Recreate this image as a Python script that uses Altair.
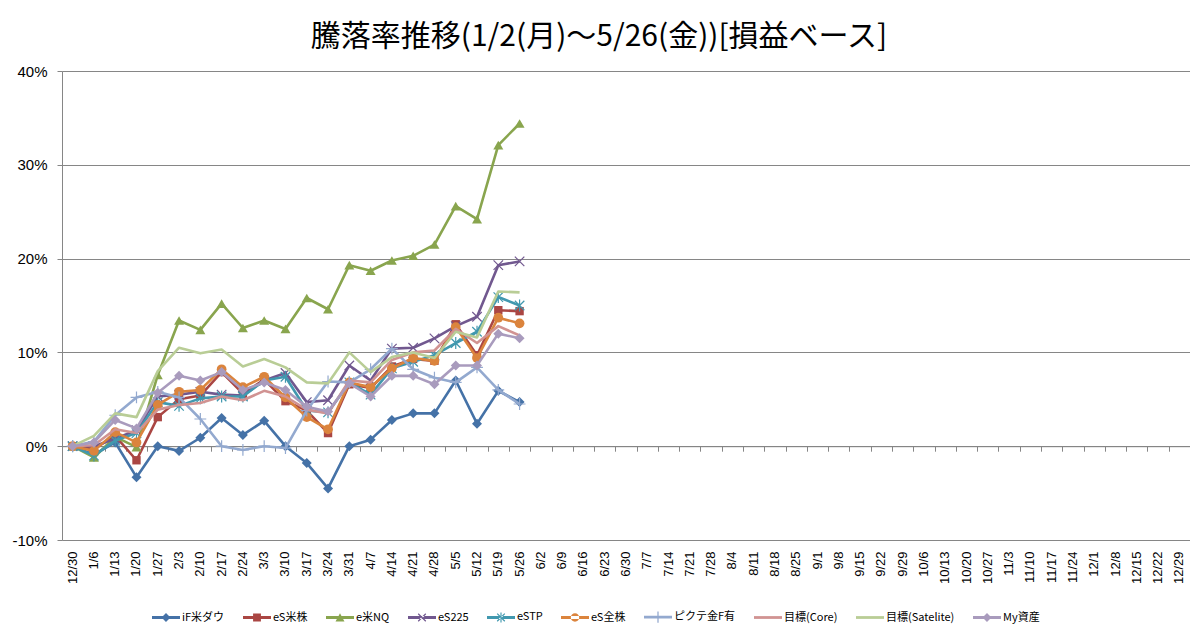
import altair as alt
import pandas as pd

dates = ["12/30", "1/6", "1/13", "1/20", "1/27", "2/3", "2/10", "2/17", "2/24", "3/3",
         "3/10", "3/17", "3/24", "3/31", "4/7", "4/14", "4/21", "4/28", "5/5", "5/12",
         "5/19", "5/26", "6/2", "6/9", "6/16", "6/23", "6/30", "7/7", "7/14", "7/21",
         "7/28", "8/4", "8/11", "8/18", "8/25", "9/1", "9/8", "9/15", "9/22", "9/29",
         "10/6", "10/13", "10/20", "10/27", "11/3", "11/10", "11/17", "11/24", "12/1",
         "12/8", "12/15", "12/22", "12/29"]

series_names = ["iF米ダウ", "eS米株", "e米NQ", "eS225", "eSTP", "eS全株",
                "ピクテ金F有", "目標(Core)", "目標(Satelite)", "My資産"]

if_dow = [0, -0.9, 0.4, -3.3, 0, -0.5, 0.9, 3.0, 1.2, 2.7, 0, -1.8, -4.5, 0, 0.7, 2.8, 3.5, 3.5, 7.0, 2.4, 5.9, 4.7]
es_sp = [0, -0.3, 1.1, -1.5, 3.1, 5.0, 5.4, 7.9, 5.6, 7.1, 4.8, 3.8, 1.4, 6.6, 6.2, 8.5, 9.3, 9.1, 13.0, 9.7, 14.5, 14.4]
e_nq = [0, -1.2, 1.0, -0.1, 7.6, 13.4, 12.4, 15.2, 12.6, 13.4, 12.5, 15.8, 14.6, 19.3, 18.7, 19.8, 20.3, 21.5, 25.6, 24.2, 32.1, 34.4]
es_225 = [0, 0, 0.8, 1.7, 5.3, 5.5, 5.8, 5.5, 5.4, 7.0, 7.8, 4.7, 4.9, 8.6, 7.0, 10.4, 10.5, 11.5, 12.8, 13.8, 19.3, 19.7]
es_tp = [0, -1.0, 0.6, 1.4, 4.7, 4.3, 5.1, 5.3, 5.3, 7.0, 7.4, 3.8, 3.6, 6.8, 5.5, 8.3, 9.0, 9.7, 11.0, 12.2, 15.9, 15.0]
es_all = [0, -0.5, 1.5, 0.4, 4.4, 5.8, 6.0, 8.2, 6.3, 7.4, 5.2, 3.1, 1.8, 6.8, 6.3, 8.3, 9.4, 9.1, 12.7, 9.4, 13.7, 13.1]
pictet = [0, 0.5, 3.3, 5.2, 5.8, 5.2, 2.9, 0, -0.4, 0, -0.2, 3.8, 6.9, 6.8, 8.2, 10.4, 8.2, 7.3, 6.8, 8.4, 6.0, 4.5]
core = [0, 0.1, 1.8, 1.4, 3.9, 4.4, 4.6, 5.3, 4.9, 5.9, 5.3, 3.9, 3.5, 7.0, 6.8, 9.2, 10.0, 10.2, 12.5, 11.0, 12.8, 11.8]
satelite = [0, 1.1, 3.5, 3.1, 8.0, 10.5, 9.9, 10.3, 8.5, 9.3, 8.4, 6.8, 6.7, 10.0, 7.9, 9.5, 10.0, 9.4, 12.2, 11.6, 16.5, 16.4]
my_asset = [0, 0.4, 2.8, 1.9, 5.7, 7.5, 7.0, 7.9, 6.0, 6.8, 6.0, 4.2, 3.7, 6.7, 5.3, 7.5, 7.5, 6.6, 8.6, 8.6, 12.0, 11.5]

series_values = [if_dow, es_sp, e_nq, es_225, es_tp, es_all, pictet, core, satelite, my_asset]

colors = ["#4572A7", "#AA4643", "#89A54E", "#71588F", "#4198AF",
          "#DB843D", "#93A9CF", "#D19392", "#B9CD96", "#A99BBD"]

y_ticks = [-10, 0, 10, 20, 30, 40]

rows = []
for name, vals in zip(series_names, series_values):
    for d, v in zip(dates, vals):
        rows.append({"date": d, "series": name, "value": v})
df = pd.DataFrame(rows)

W, H = 1128, 469
FONT = "Liberation Sans"
JFONT = "Noto Sans CJK JP"
GRID = "#868686"

X_PATH = "M-1,-1L1,1M-1,1L1,-1"
STAR_PATH = "M-1,-1L1,1M-1,1L1,-1M0,-1.25L0,1.25"
PLUS_PATH = "M-1,0L1,0M0,-1L0,1"
markers = [
    ("diamond", True, 100, 1),
    ("square", True, 70, 1),
    ("triangle-up", True, 100, 1),
    (X_PATH, False, 90, 1.2),
    (STAR_PATH, False, 90, 1.2),
    ("circle", True, 95, 1),
    (PLUS_PATH, False, 140, 1.2),
    (None, True, 0, 0),
    (None, True, 0, 0),
    ("diamond", True, 100, 1),
]

BAR = "M-1,-0.1H1V0.1H-1Z"
leg_shapes = [
    BAR + "M0,-0.32L0.32,0L0,0.32L-0.32,0Z",
    BAR + "M-0.28,-0.28H0.28V0.28H-0.28Z",
    BAR + "M0,-0.3L0.32,0.28H-0.32Z",
    BAR + "M-0.3,-0.24L-0.24,-0.3L0.3,0.24L0.24,0.3Z M-0.3,0.24L-0.24,0.3L0.3,-0.24L0.24,-0.3Z",
    BAR + "M-0.3,-0.24L-0.24,-0.3L0.3,0.24L0.24,0.3Z M-0.3,0.24L-0.24,0.3L0.3,-0.24L0.24,-0.3Z M-0.04,-0.36H0.04V0.36H-0.04Z",
    BAR + "M-0.3,0A0.3,0.3,0,1,0,0.3,0A0.3,0.3,0,1,0,-0.3,0Z",
    BAR + "M-0.045,-0.4H0.045V0.4H-0.045Z",
    BAR,
    BAR,
    BAR + "M0,-0.32L0.32,0L0,0.32L-0.32,0Z",
]

x_scale = alt.Scale(domain=dates, type="band", paddingInner=0, paddingOuter=0)
y_scale = alt.Scale(domain=[-10, 40], nice=False)

y_axis = alt.Axis(values=y_ticks, labelExpr="datum.value + '%'", grid=True,
                  gridColor=GRID, gridWidth=1, domainColor=GRID, tickColor=GRID,
                  tickSize=5, labelFontSize=15, labelColor="#000000", labelFont=FONT,
                  labelPadding=10, title=None)
x_axis_labels = alt.Axis(labelAngle=-90, labelFontSize=13, labelFont=FONT,
                         labelColor="#000000", labelPadding=11, ticks=False,
                         domain=False, labelOverlap=False, title=None, grid=False)
x_axis_zero = alt.Axis(orient="bottom", offset=-(H * 0.2), labels=False, ticks=True,
                       tickBand="extent", tickSize=5, tickColor=GRID, domainColor=GRID,
                       domain=True, title=None, grid=False)

base = alt.Chart(df)
layers = []

dates_df = pd.DataFrame({"date": dates})
layers.append(
    alt.Chart(dates_df).mark_point(opacity=0).encode(
        x=alt.X("date:N", scale=x_scale, sort=dates, axis=x_axis_labels),
        y=alt.Y("v:Q", scale=y_scale, axis=y_axis),
    ).transform_calculate(v="0")
)
layers.append(
    alt.Chart(dates_df).mark_point(opacity=0).encode(
        x=alt.X("date:N", scale=x_scale, sort=dates, axis=x_axis_zero),
        y=alt.Y("v:Q", scale=y_scale, axis=y_axis),
    ).transform_calculate(v="0")
)

for i, name in enumerate(series_names):
    sub = base.transform_filter(alt.datum.series == name)
    enc = dict(
        x=alt.X("date:N", scale=x_scale, sort=dates, axis=None),
        y=alt.Y("value:Q", scale=y_scale, axis=y_axis),
    )
    layers.append(sub.mark_line(strokeWidth=2.6, color=colors[i],
                                strokeJoin="round").encode(**enc))
    shape, filled, size, sw = markers[i]
    if shape is not None:
        layers.append(sub.mark_point(shape=shape, filled=filled, size=size,
                                     color=colors[i], strokeWidth=sw,
                                     opacity=1).encode(**enc))

legend = alt.Legend(orient="none", legendX=90, legendY=532, direction="horizontal",
                    title=None, symbolSize=784, symbolStrokeWidth=0,
                    labelFontSize=11, labelFont=JFONT, labelColor="#000000",
                    columnPadding=18, symbolOffset=0, labelOffset=2, labelLimit=300)
layers.append(
    base.mark_point(filled=True, opacity=1).encode(
        color=alt.Color("series:N", scale=alt.Scale(domain=series_names, range=colors),
                        legend=legend),
        shape=alt.Shape("series:N", scale=alt.Scale(domain=series_names, range=leg_shapes),
                        legend=legend),
    ).transform_filter("false")
)

chart = alt.layer(*layers).resolve_axis(x="independent").properties(
    width=W, height=H,
    padding={"left": 54, "top": 63, "right": 0, "bottom": 84},
    autosize=alt.AutoSizeParams(type="none"),
    title=alt.TitleParams(
        "騰落率推移(1/2(月)～5/26(金))[損益ベース]",
        font=JFONT, fontSize=30, fontWeight="normal", color="#000000",
        anchor="middle", dx=-27, offset=12,
    ),
).configure_view(stroke=None).configure(background="white")

chart.save("out.html", embed_options={"renderer": "svg", "actions": False})
